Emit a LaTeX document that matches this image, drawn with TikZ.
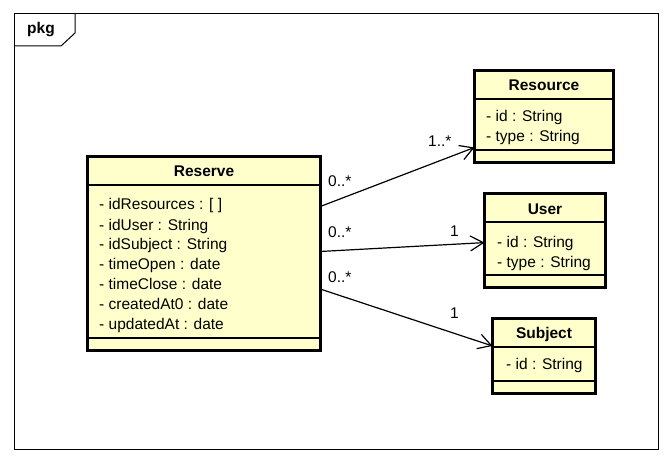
\documentclass[tikz,border=0pt]{standalone}
\usepackage{fontspec}
\setmainfont{Liberation Sans}
\usetikzlibrary{arrows.meta}
\definecolor{classfill}{RGB}{255,255,204}

\begin{document}
\begin{tikzpicture}[x=1pt, y=-1pt, >={Straight Barb[length=13pt,width=15pt]}]
	\tikzstyle{umlclass}=[draw=black, line width=3pt, fill=classfill, inner sep=0pt, outer sep=0pt]
	\tikzstyle{classname}=[font=\bfseries\fontsize{15.5}{18}\selectfont, inner sep=0pt]
	\tikzstyle{attrs}=[font=\fontsize{15.5}{20}\selectfont, align=left, anchor=west, inner sep=0pt]
	\tikzstyle{mult}=[font=\fontsize{15.5}{18}\selectfont, inner sep=0pt, anchor=base west]
	\tikzstyle{sep}=[line width=1.5pt]
	\tikzstyle{assoc}=[->, line width=1.2pt]

	\useasboundingbox (0,0) rectangle (672,462);

	% package frame
	\draw[line width=1pt] (14,14) rectangle (658,449);
	\draw[line width=1pt] (14,46) -- (61,46) -- (75,33) -- (75,14);
	\node[classname] (pkg) at (41,30) {pkg};

	% classes
	\node[umlclass, minimum width=233pt, minimum height=194pt] at (204,253.5) (reserve) {};
	\node[umlclass, minimum width=139pt, minimum height=92pt] at (544,116.5) (resource) {};
	\node[umlclass, minimum width=121pt, minimum height=94pt] at (545,240.5) (user) {};
	\node[umlclass, minimum width=103pt, minimum height=75pt] at (544,356) (subject) {};

	\foreach \c in {reserve, resource, user, subject} {
		\draw[sep] ([yshift=-28.5pt]\c.north west) -- ([yshift=-28.5pt]\c.north east);
		\draw[sep] ([yshift=12.5pt]\c.south west) -- ([yshift=12.5pt]\c.south east);
	}

	\node[classname] at (204,171) (reservename) {Reserve};
	\node[classname] at (544,85.5) (resourcename) {Resource};
	\node[classname] at (545,209) (username) {User};
	\node[classname] at (544,334) (subjectname) {Subject};

	\node[attrs] at (99,266) (reserveattrs) {\strut- idResources : [ ]\\\strut- idUser : String\\\strut- idSubject : String\\\strut- timeOpen : date\\\strut- timeClose : date\\\strut- createdAt0 : date\\\strut- updatedAt : date};
	\node[attrs] at (486,128) (resourceattrs) {\strut- id : String\\\strut- type : String};
	\node[attrs] at (497,254) (userattrs) {\strut- id : String\\\strut- type : String};
	\node[attrs] at (506,366) (subjectattrs) {\strut- id : String};

	% associations
	\path
	(reserve.22.6) edge[assoc] (resource.204.4)
	(reserve.1.7) edge[assoc] (user.182.4)
	(reserve.-17.4) edge[assoc] (subject.169);

	% multiplicities
	\node[mult] at (328,187) (m1) {0..*};
	\node[mult] at (428,147) (m2) {1..*};
	\node[mult] at (328,238) (m3) {0..*};
	\node[mult] at (450,237) (m4) {1};
	\node[mult] at (328,283) (m5) {0..*};
	\node[mult] at (450,319) (m6) {1};
\end{tikzpicture}
\end{document}
